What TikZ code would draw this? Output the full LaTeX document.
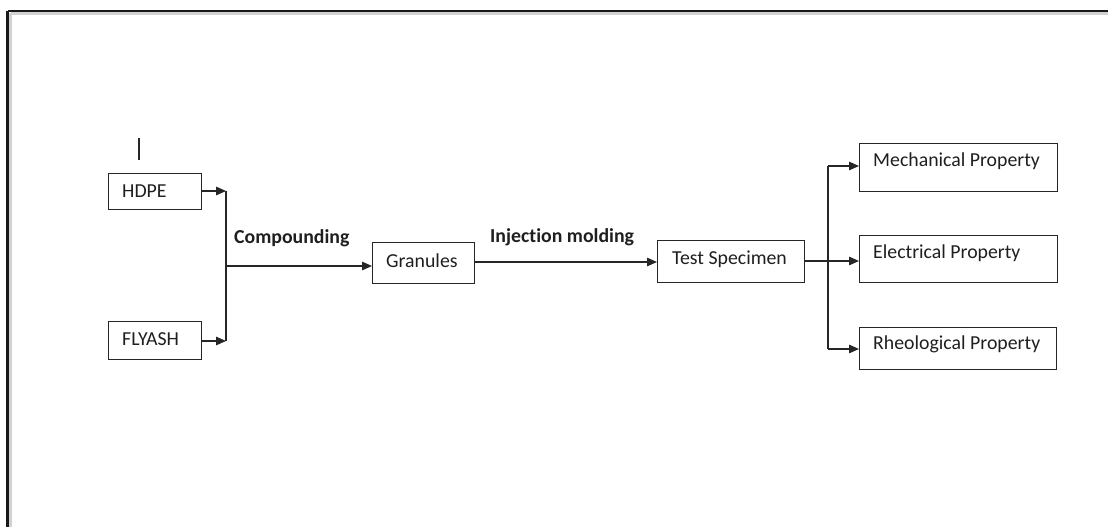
\documentclass[tikz,border=0pt]{standalone}
\usepackage{fontspec}
\setmainfont[Ligatures=NoCommon]{Carlito}
\usetikzlibrary{arrows.meta,calc}
\tikzset{
  box/.style={draw=black!85, line width=1.4pt, rectangle, inner sep=0pt, anchor=north west},
  txt/.style={anchor=west, inner sep=0pt, text=black!88, font=\fontsize{19.8}{22}\selectfont},
  btxt/.style={txt, font=\fontsize{19.8}{22}\selectfont\bfseries},
  conn/.style={draw=black!85, line width=1.5pt},
  arr/.style={conn, -{Triangle[length=10pt,width=8.5pt]}},
}
\begin{document}
\begin{tikzpicture}[x=1pt,y=-1pt]
\useasboundingbox (0,0) rectangle (1108,527);
\fill[white] (0,0) rectangle (1108,527);
% frame
\draw[black!18, line width=2.5pt] (10.5,13.5) -- (1108,13.5);
\draw[black!18, line width=2.5pt] (10.5,13.5) -- (10.5,527);
\draw[black!90, line width=2.4pt] (7.5,11) -- (1108,11);
\draw[black!90, line width=2.4pt] (7.5,11) -- (7.5,527);
% stray mark
\coordinate (s1) at (139,138);
\coordinate (s2) at (139,160);
\draw[conn, line width=1.2pt] (s1) -- (s2);
% boxes
\node[box, minimum width=93pt, minimum height=36pt] (hdpe) at (108,173) {};
\node[txt] (hdpet) at (122,191) {HDPE};
\node[box, minimum width=93pt, minimum height=38pt] (fly) at (108,321) {};
\node[txt] (flyt) at (122,339) {FLYASH};
\node[box, minimum width=102pt, minimum height=41pt] (gran) at (372,242) {};
\node[txt] (grant) at (386,261) {Granules};
\node[box, minimum width=147pt, minimum height=42pt] (test) at (657,240) {};
\node[txt] (testt) at (672,259) {Test Specimen};
\node[box, minimum width=198pt, minimum height=48pt] (mech) at (859,143) {};
\node[txt] (mecht) at (873,161) {Mechanical Property};
\node[box, minimum width=198pt, minimum height=47pt] (elec) at (859,235) {};
\node[txt] (elect) at (873,253) {Electrical Property};
\node[box, minimum width=197pt, minimum height=42pt] (rheo) at (859,327) {};
\node[txt] (rheot) at (873,344) {Rheological Property};
% labels
\node[btxt] (comp) at (234,238) {Compounding};
\node[btxt] (inj) at (490,237) {Injection molding};
% connectors
\coordinate (j1) at (226,191);
\coordinate (j2) at (226,341);
\coordinate (j3) at (226,266);
\draw[arr] (hdpe.east |- j1) -- (j1);
\draw[arr] (fly.east |- j2) -- (j2);
\draw[conn] (j1) -- (j2);
\draw[arr] (j3) -- (j3 -| gran.west);
\coordinate (g1) at (474,262);
\draw[arr] (gran.east |- g1) -- (g1 -| test.west);
\coordinate (b0) at (804,261);
\coordinate (b1) at (828,166);
\coordinate (b2) at (828,349);
\draw[arr] (test.east |- b0) -- (b0 -| elec.west);
\draw[conn] (b1) -- (b2);
\draw[arr] (b1) -- (b1 -| mech.west);
\draw[arr] (b2) -- (b2 -| rheo.west);
\end{tikzpicture}
\end{document}
